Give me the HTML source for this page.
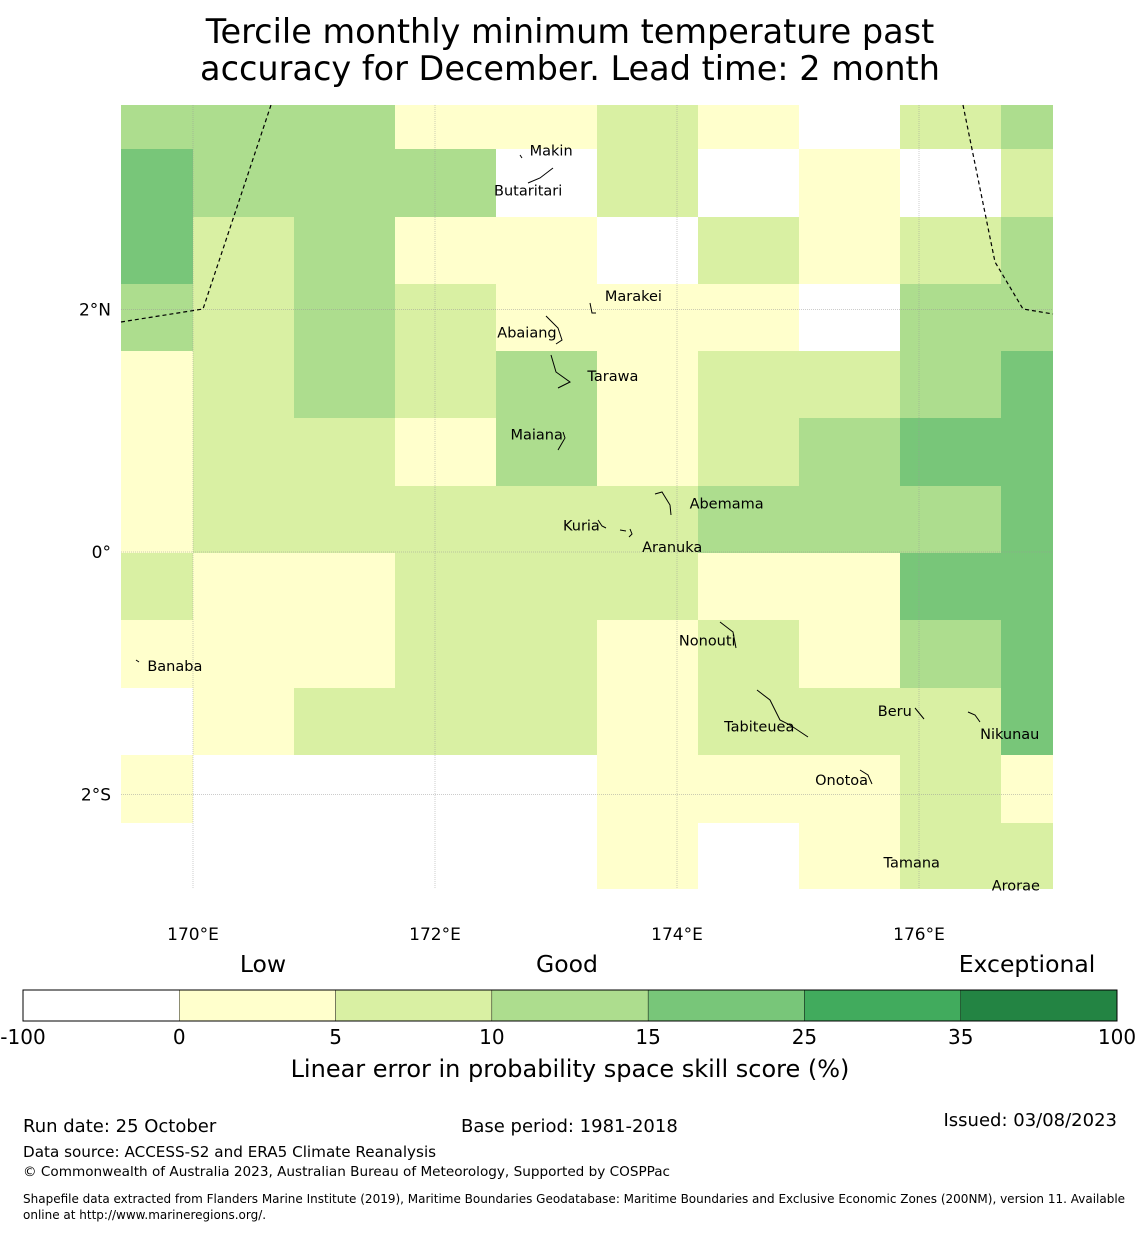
<!DOCTYPE html>
<html><head><meta charset="utf-8">
<style>
body{margin:0;background:#fff;font-family:"Liberation Sans","DejaVu Sans",sans-serif;}
svg text{font-family:"DejaVu Sans","Liberation Sans",sans-serif;}
</style></head>
<body>
<svg id="chart" width="1140" height="1230" xmlns="http://www.w3.org/2000/svg">
<text x="570" y="43" font-size="33.5" text-anchor="middle">Tercile monthly minimum temperature past</text>
<text x="570" y="80" font-size="33.5" text-anchor="middle">accuracy for December. Lead time: 2 month</text>
<g id="map"></g>
<g id="cbar"></g>
<text x="23" y="1132" font-size="18">Run date: 25 October</text>
<text x="461" y="1132" font-size="18">Base period: 1981-2018</text>
<text x="1117" y="1126" font-size="18" text-anchor="end">Issued: 03/08/2023</text>
<text x="23" y="1157" font-size="15.2">Data source: ACCESS-S2 and ERA5 Climate Reanalysis</text>
<text x="23" y="1176" font-size="13.6">© Commonwealth of Australia 2023, Australian Bureau of Meteorology, Supported by COSPPac</text>
<text x="23" y="1203" font-size="12">Shapefile data extracted from Flanders Marine Institute (2019), Maritime Boundaries Geodatabase: Maritime Boundaries and Exclusive Economic Zones (200NM), version 11. Available</text>
<text x="23" y="1219" font-size="12">online at http://www.marineregions.org/.</text>
</svg>
<script>
const colors=["#ffffff","#ffffcc","#d9f0a3","#addd8e","#78c679","#41ab5d","#238443"];
const colEdges=[121,193,294,395,496,597,698,799,900,1001,1053];
const rowEdges=[105,149,217,284,351,418,486,553,620,688,755,823,889];
const grid=[
[3,3,3,1,1,2,1,0,2,3],
[4,3,3,3,0,2,0,1,0,2],
[4,2,3,1,1,0,2,1,2,3],
[3,2,3,2,1,1,1,0,3,3],
[1,2,3,2,3,1,2,2,3,4],
[1,2,2,1,3,1,2,3,4,4],
[1,2,2,2,2,2,3,3,3,4],
[2,1,1,2,2,2,1,1,4,4],
[1,1,1,2,2,1,2,1,3,4],
[0,1,2,2,2,1,2,2,2,4],
[1,0,0,0,0,1,1,1,2,1],
[0,0,0,0,0,1,0,1,2,2]];
const lonTicks=[170,172,174,176];
const latTicks=[2,0,-2];
const latLabels=["2°N","0°","2°S"];
const islands=[["Makin",172.96,3.31],["Butaritari",172.77,2.98],["Marakei",173.64,2.11],["Abaiang",172.76,1.81],["Tarawa",173.47,1.45],["Maiana",172.84,0.97],["Abemama",174.41,0.4],["Kuria",173.21,0.22],["Aranuka",173.96,0.04],["Nonouti",174.25,-0.73],["Banaba",169.85,-0.94],["Tabiteuea",174.68,-1.44],["Beru",175.8,-1.31],["Nikunau",176.75,-1.5],["Onotoa",175.36,-1.88],["Tamana",175.94,-2.56],["Arorae",176.8,-2.75]];
const cbTicks=["-100","0","5","10","15","25","35","100"];
const ns="http://www.w3.org/2000/svg";
const X=lon=>193+(lon-170)*121;
const Y=lat=>552-lat*121.3;
function mk(p,t,a){const e=document.createElementNS(ns,t);for(const k in a)e.setAttribute(k,a[k]);p.appendChild(e);return e;}
const map=document.getElementById('map');
grid.forEach((row,r)=>row.forEach((v,c)=>{
 const e=mk(map,'rect',{x:colEdges[c],y:rowEdges[r],width:colEdges[c+1]-colEdges[c],height:rowEdges[r+1]-rowEdges[r],fill:colors[v]});
 
 
}));
lonTicks.forEach(l=>{
 const g=mk(map,'line',{x1:X(l),x2:X(l),y1:105,y2:889,stroke:"#999",'stroke-width':0.5,'stroke-dasharray':'1,1'});
 
 
 const t=mk(map,'text',{x:X(l),y:940,'font-size':17,'text-anchor':'middle'});t.textContent=l+"°E";
 
 
});
latTicks.forEach((l,i)=>{
 const g=mk(map,'line',{x1:121,x2:1053,y1:Y(l),y2:Y(l),stroke:"#999",'stroke-width':0.5,'stroke-dasharray':'1,1'});
 
 
 const t=mk(map,'text',{x:111,y:Y(l)+6,'font-size':17,'text-anchor':'end'});t.textContent=latLabels[i];
 
 
});
const b1=mk(map,'polyline',{points:"121,322 203,309 271,105",fill:"none",stroke:"#000","stroke-dasharray":"4,3","stroke-width":1.2});


const b2=mk(map,'polyline',{points:"963,105 995,262 1023,309 1053,314",fill:"none",stroke:"#000","stroke-dasharray":"4,3","stroke-width":1.2});


const shapes=["M546,316 L558,328 L562,340 L556,344","M551,355 L556,372 L570,382 L558,388","M563,432 L565,438 L558,450","M655,494 L662,492 L670,505 L671,515","M720,622 L733,632 L736,648","M757,690 L770,700 L780,720 L790,725 L808,737","M968,712 L975,715 L980,722","M590,303 L592,313 L596,313","M520,155 L522,158","M528,183 L540,178 L553,168","M860,770 L868,775 L872,784","M915,708 L924,719","M598,520 L602,526 L606,528","M620,530 L626,531 M630,529 L632,534 L629,537","M136,660 L139,662"];
shapes.forEach(d=>{const p=mk(map,'path',{d:d,fill:"none",stroke:"#000","stroke-width":1});
 
 });
islands.forEach(([n,lo,la])=>{
 const t=mk(map,'text',{x:X(lo),y:Y(la)+5,'font-size':14.5,'text-anchor':'middle'});t.textContent=n;
 
 
});
const cb=document.getElementById('cbar');
const cw=(1117-23)/7;
for(let i=0;i<7;i++){
 const r=mk(cb,'rect',{x:23+i*cw,y:990,width:cw,height:31,fill:colors[i],stroke:"#000","stroke-width":0.4});
 
 
}
mk(cb,'rect',{x:23,y:990,width:1094,height:31,fill:"none",stroke:"#000","stroke-width":1});
cbTicks.forEach((s,i)=>{
 const t=mk(cb,'text',{x:23+i*cw,y:1044,'font-size':20,'text-anchor':'middle'});t.textContent=s;
 
 
});
[["Low",263],["Good",567],["Exceptional",1027]].forEach(([s,x])=>{
 const t=mk(cb,'text',{x:x,y:972,'font-size':23.5,'text-anchor':'middle'});t.textContent=s;
 
 
});
const ct=mk(cb,'text',{x:570,y:1077,'font-size':24,'text-anchor':'middle'});ct.textContent="Linear error in probability space skill score (%)";


</script>
</body></html>
